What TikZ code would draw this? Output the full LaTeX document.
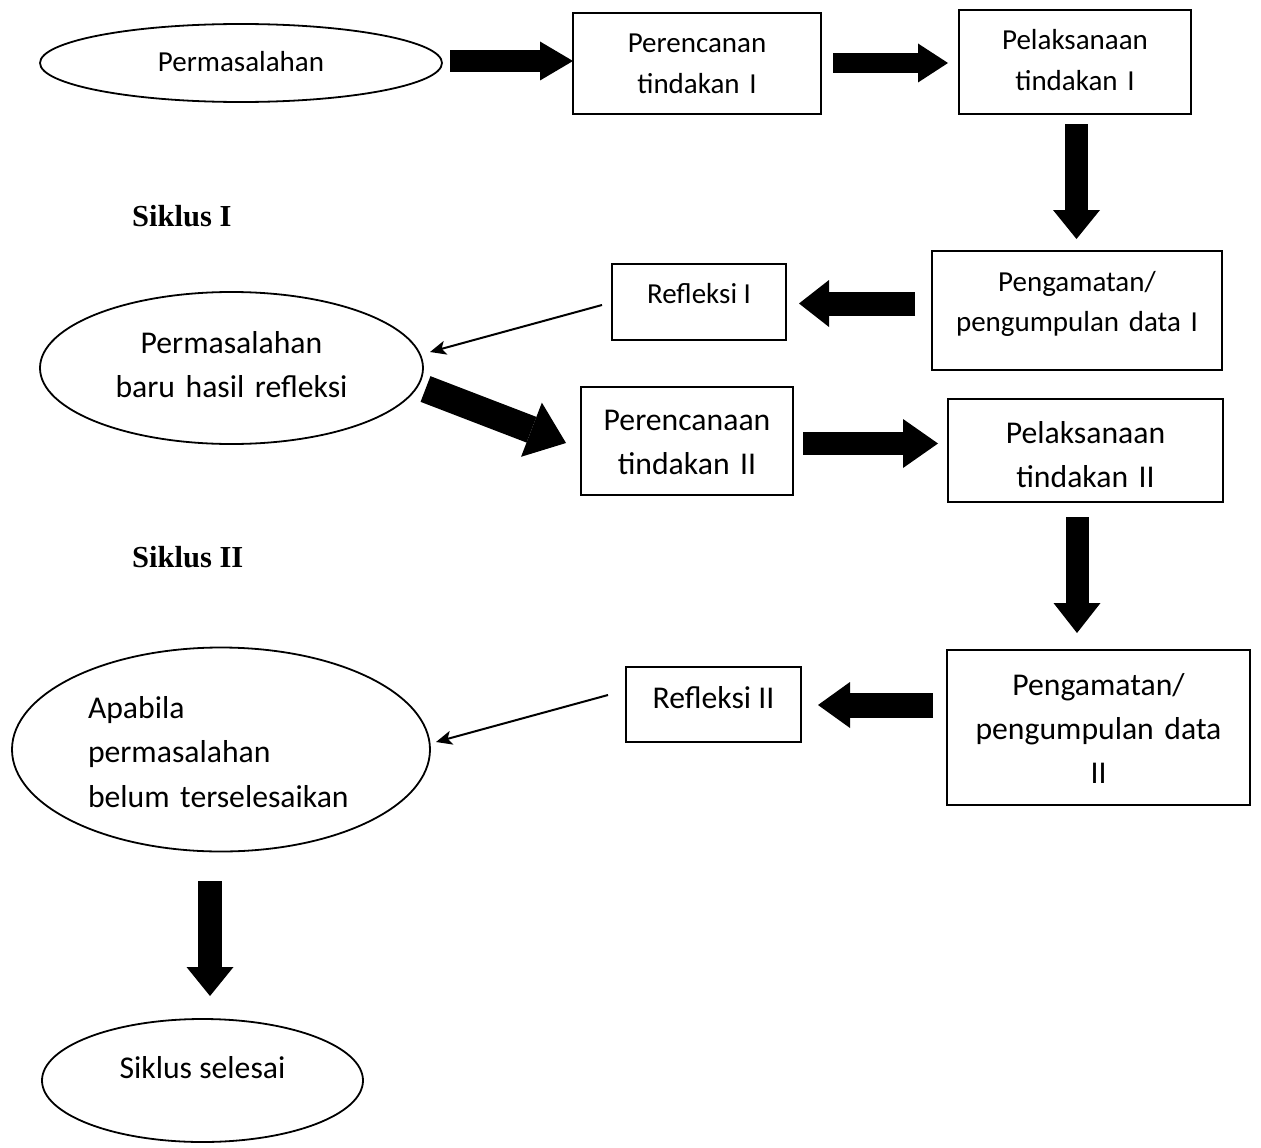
\documentclass[tikz,border=0pt]{standalone}
\usepackage{fontspec}
\setmainfont{Carlito}
\newfontfamily\serifbold{Liberation Serif}
\usetikzlibrary{arrows.meta,shapes.geometric}
\newcommand\fsA{\fontsize{29}{40}\selectfont}
\newcommand\fsC{\fontsize{31.7}{44}\selectfont}
\begin{document}
\begin{tikzpicture}[x=1pt,y=-1pt,
  box/.style={draw, line width=1.8pt, rectangle, inner sep=0pt, align=center},
  ell/.style={draw, line width=1.8pt, ellipse, inner sep=0pt, align=center},
  blk/.style n args={3}{line width=#1, -{Triangle[length=#2, width=#3, line width=0pt]}},
  thinarr/.style={line width=2pt, -{Stealth[length=16pt, width=14pt, inset=4pt]}},
  lbl/.style={font=\serifbold\bfseries\fontsize{30.5}{36}\selectfont, anchor=base west, inner sep=0pt}
]
\path[fill=white] (0,0) rectangle (1261,1148);
\useasboundingbox (0,0) rectangle (1261,1148);

% row 1
\node[ell, minimum width=402pt, minimum height=78pt, font=\fsA, text height=18pt, text depth=0pt] (e1) at (241,63) {Permasalahan};
\node[box, minimum width=248pt, minimum height=101pt, font=\fsA, text width=240pt, text height=0pt, text depth=21pt] (p1) at (697,63.5) {Perencanan\\tindakan I};
\node[box, minimum width=232pt, minimum height=104pt, font=\fsA, text width=224pt, text height=0pt, text depth=24pt] (l1) at (1075,62) {Pelaksanaan\\tindakan I};

\node[lbl] (s1) at (132,226) {Siklus I};

% row 2
\node[box, minimum width=290pt, minimum height=119pt, font=\fsA, text width=282pt, text height=0pt, text depth=39pt] (g1) at (1077,310.5) {Pengamatan/\\pengumpulan data I};
\node[box, minimum width=174pt, minimum height=76pt, font=\fsA, text height=2pt, text depth=0pt] (r1) at (699,302) {Refleksi I};
\node[ell, minimum width=383pt, minimum height=152pt, font=\fsC, text width=240pt, text height=0pt, text depth=30pt] (e2) at (231.5,368) {Permasalahan\\baru hasil refleksi};

% row 3
\node[box, minimum width=212pt, minimum height=108pt, font=\fsC, text width=204pt, text height=0pt, text depth=22pt] (p2) at (687,441) {Perencanaan\\tindakan II};
\node[box, minimum width=275pt, minimum height=103pt, font=\fsC, text width=265pt, text height=0pt, text depth=15pt] (l2) at (1085.5,450.5) {Pelaksanaan\\tindakan II};

\node[lbl] (s2) at (132,567) {Siklus II};

% row 4
\node[box, minimum width=303pt, minimum height=155pt, font=\fsC, text width=293pt, text height=0pt, text depth=65pt] (g2) at (1098.5,727.5) {Pengamatan/\\pengumpulan data\\II};
\node[box, minimum width=175pt, minimum height=75pt, font=\fsC, text height=7pt, text depth=0pt] (r2) at (713.5,704.5) {Refleksi II};
\node[ell, minimum width=418pt, minimum height=204pt, font=\fontsize{31.7}{44.5}\selectfont, text width=266pt, align=left, text height=0pt, text depth=63pt] (e3) at (221,749.5) {Apabila\\permasalahan\\belum terselesaikan};
\node[ell, minimum width=321pt, minimum height=123pt, font=\fsC, text height=0pt, text depth=5pt] (e4) at (202.5,1080.5) {Siklus selesai};

% block arrow end points
\coordinate (a1s) at (450,61);   \coordinate (a1e) at (573,61);
\coordinate (a2s) at (833,63);   \coordinate (a2e) at (948,63);
\coordinate (d1s) at (1076.5,124); \coordinate (d1e) at (1076.5,239);
\coordinate (b1s) at (915,303.5); \coordinate (b1e) at (799,303.5);
\coordinate (q1s) at (425.5,389); \coordinate (q1e) at (566,443);
\coordinate (a3s) at (803,443.5); \coordinate (a3e) at (938,443.5);
\coordinate (d2s) at (1077,517);  \coordinate (d2e) at (1077,633);
\coordinate (b2s) at (933,705);   \coordinate (b2e) at (818,705);
\coordinate (d3s) at (210,881);   \coordinate (d3e) at (210,996);
% thin arrow end points
\coordinate (t1s) at (602,305);   \coordinate (t1e) at (430,352);
\coordinate (t2s) at (608,695);   \coordinate (t2e) at (436,742);

\draw[blk={22pt}{33pt}{39pt}] (a1s) -- (a1e);
\draw[blk={20pt}{30pt}{39pt}] (a2s) -- (a2e);
\draw[blk={23pt}{29pt}{47pt}] (d1s) -- (d1e);
\draw[blk={24pt}{30pt}{47pt}] (b1s) -- (b1e);
\draw[blk={27.5pt}{37pt}{58pt}] (q1s) -- (q1e);
\draw[blk={23pt}{35pt}{49pt}] (a3s) -- (a3e);
\draw[blk={23pt}{30pt}{47pt}] (d2s) -- (d2e);
\draw[blk={25pt}{32pt}{46pt}] (b2s) -- (b2e);
\draw[blk={24pt}{29pt}{47pt}] (d3s) -- (d3e);

\draw[thinarr] (t1s) -- (t1e);
\draw[thinarr] (t2s) -- (t2e);
\end{tikzpicture}
\end{document}
